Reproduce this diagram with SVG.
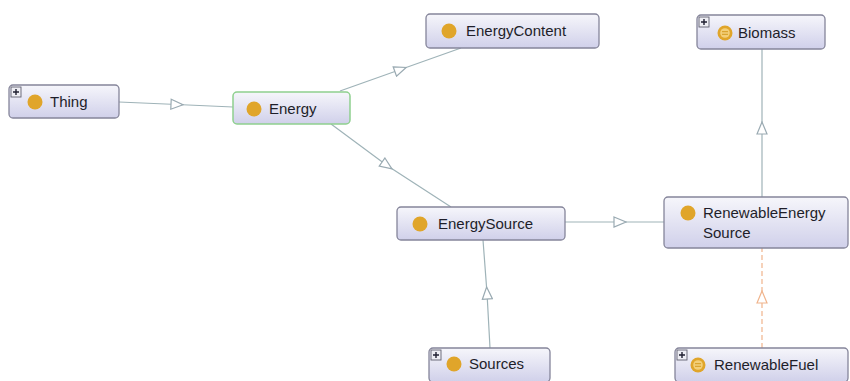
<svg xmlns="http://www.w3.org/2000/svg" width="850" height="381" viewBox="0 0 850 381">
  <style>
    .box { fill: url(#nodeFill); stroke: #85859a; stroke-width: 1.3; }
    .box.sel { stroke: #8fd08f; stroke-width: 1.5; }
    .lbl { font-family: "Liberation Sans", Arial, sans-serif; font-size: 15px; fill: #1e1e2a; }
    .dot { fill: #e0a52a; }
    .plus { fill: #eeeef4; stroke: #606070; stroke-width: 0.9; }
    .plusmark { stroke: #202030; stroke-width: 1.4; }
    .edge { fill: none; stroke: #9fb3b8; stroke-width: 1.2; marker-mid: url(#tri); }
    .edge.dep { stroke: #f0b48c; stroke-dasharray: 5 3; marker-mid: url(#triOrange); }
  </style>
  <defs>
    <linearGradient id="nodeFill" x1="0" y1="0" x2="0" y2="1">
      <stop offset="0" stop-color="#f6f6fb"/>
      <stop offset="1" stop-color="#d0d0ea"/>
    </linearGradient>
    <marker id="tri" viewBox="0 0 14 12" markerWidth="14" markerHeight="12" refX="7" refY="6" orient="auto" markerUnits="userSpaceOnUse">
      <path d="M1,1 L13,6 L1,11 Z" fill="#ffffff" stroke="#9aaab2" stroke-width="1.2"/>
    </marker>
    <marker id="triOrange" viewBox="0 0 14 12" markerWidth="14" markerHeight="12" refX="7" refY="6" orient="auto" markerUnits="userSpaceOnUse">
      <path d="M1,1 L13,6 L1,11 Z" fill="#ffffff" stroke="#f0b48c" stroke-width="1.2"/>
    </marker>
    <!-- equivalent-class icon -->
    <g id="eqIcon">
      <circle r="7.5" fill="#e0a52a"/>
      <circle r="4.8" fill="#f3cf78"/>
      <path d="M-3,-1.3 H3 M-3,1.3 H3" stroke="#d49a20" stroke-width="1"/>
    </g>
    <!-- expand toggle -->
    <g id="plusBox">
      <rect x="0" y="0" width="10" height="10" class="plus"/>
      <path d="M2,5 H8 M5,2 V8" class="plusmark"/>
    </g>
  </defs>

  <rect width="850" height="381" fill="#ffffff"/>

  <!-- subclass connectors, arrowhead at each midpoint -->
  <g id="edges">
    <path class="edge" d="M119,102 L177,104.5 L233,107"/>
    <path class="edge" d="M340,91 L400.5,69.5 L461,48"/>
    <path class="edge" d="M331,124 L387,165.5 L451,207"/>
    <path class="edge" d="M565,222 L620,222 L664,222"/>
    <path class="edge" d="M762,197 L762,128 L762,49"/>
    <path class="edge" d="M490,348 L487,293 L483,240"/>
    <path class="edge dep" d="M762,348 L762,297 L762,248"/>
  </g>

  <g id="node-thing">
    <rect class="box" x="9" y="85" width="110" height="33" rx="4"/>
    <use href="#plusBox" x="11" y="87"/>
    <circle class="dot" cx="35" cy="102" r="7.5"/>
    <text class="lbl" x="50" y="107">Thing</text>
  </g>

  <g id="node-energy">
    <rect class="box sel" x="233" y="92" width="117" height="32" rx="4"/>
    <circle class="dot" cx="254" cy="109" r="7.5"/>
    <text class="lbl" x="269" y="114">Energy</text>
  </g>

  <g id="node-energycontent">
    <rect class="box" x="426" y="14" width="173" height="34" rx="4"/>
    <circle class="dot" cx="449" cy="31" r="7.5"/>
    <text class="lbl" x="466" y="36">EnergyContent</text>
  </g>

  <g id="node-biomass">
    <rect class="box" x="697" y="15" width="128" height="34" rx="4"/>
    <use href="#plusBox" x="699" y="17"/>
    <use href="#eqIcon" x="725" y="33"/>
    <text class="lbl" x="738" y="38">Biomass</text>
  </g>

  <g id="node-energysource">
    <rect class="box" x="397" y="207" width="168" height="33" rx="4"/>
    <circle class="dot" cx="420" cy="224" r="7.5"/>
    <text class="lbl" x="438" y="229">EnergySource</text>
  </g>

  <g id="node-renewableenergysource">
    <rect class="box" x="664" y="197" width="184" height="51" rx="4"/>
    <circle class="dot" cx="688" cy="213" r="7.5"/>
    <text class="lbl" x="703" y="218">RenewableEnergy</text>
    <text class="lbl" x="703" y="238">Source</text>
  </g>

  <g id="node-sources">
    <rect class="box" x="429" y="348" width="121" height="34" rx="4"/>
    <use href="#plusBox" x="431" y="350"/>
    <circle class="dot" cx="454" cy="364" r="7.5"/>
    <text class="lbl" x="469" y="369">Sources</text>
  </g>

  <g id="node-renewablefuel">
    <rect class="box" x="675" y="348" width="173" height="34" rx="4"/>
    <use href="#plusBox" x="677" y="350"/>
    <use href="#eqIcon" x="698" y="365"/>
    <text class="lbl" x="714" y="370">RenewableFuel</text>
  </g>
</svg>
